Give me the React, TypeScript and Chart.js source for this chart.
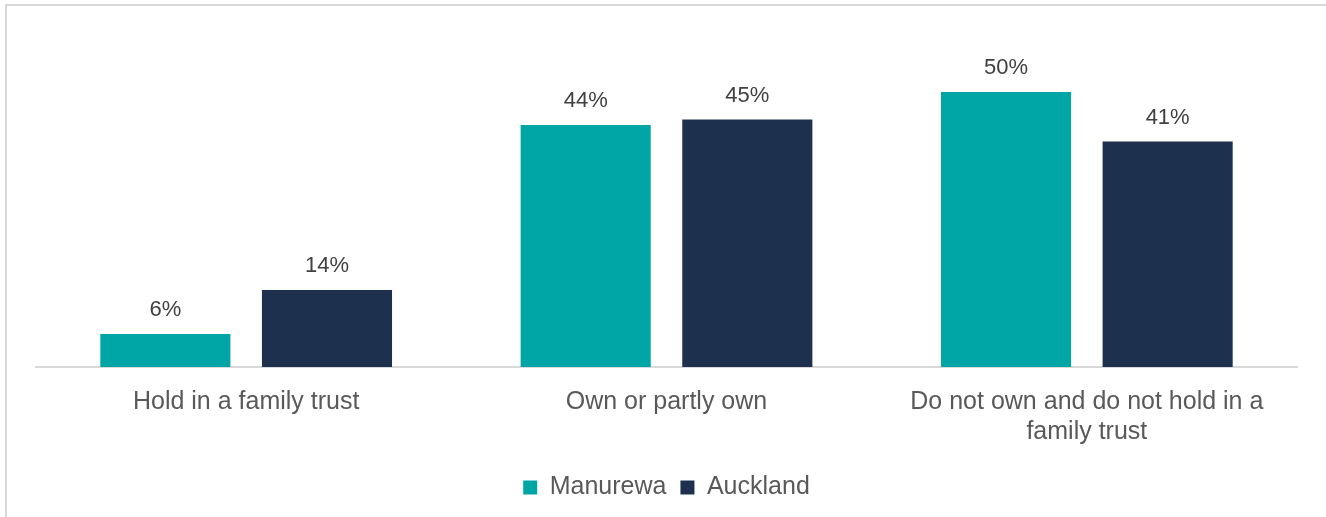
import React, { useEffect, useRef } from "react";
import { Chart, registerables } from "chart.js";

Chart.register(...registerables);

const categories: string[][] = [
  ["Hold in a family trust"],
  ["Own or partly own"],
  ["Do not own and do not hold in a", "family trust"],
];
const manurewa: number[] = [6, 44, 50];
const auckland: number[] = [14, 45, 41];
const seriesNames: string[] = ["Manurewa", "Auckland"];

const FONT = "'Liberation Sans', Arial, sans-serif";

const labelPlugin = {
  id: "barLabels",
  afterDatasetsDraw(chart: any) {
    const ctx = chart.ctx;
    ctx.save();
    ctx.font = `22px ${FONT}`;
    ctx.fillStyle = "#404040";
    ctx.textAlign = "center";
    ctx.textBaseline = "middle";
    chart.data.datasets.forEach((ds: any, i: number) => {
      const meta = chart.getDatasetMeta(i);
      meta.data.forEach((bar: any, j: number) => {
        ctx.fillText(`${ds.data[j]}%`, bar.x, bar.y - 24);
      });
    });
    ctx.restore();
  },
};

export default function App() {
  const ref = useRef<HTMLCanvasElement | null>(null);
  useEffect(() => {
    if (!ref.current) return;
    const chart = new Chart(ref.current, {
      type: "bar",
      data: {
        labels: categories,
        datasets: [
          { label: seriesNames[0], data: manurewa, backgroundColor: "#00A6A6" },
          { label: seriesNames[1], data: auckland, backgroundColor: "#1D314F" },
        ],
      },
      options: {
        animation: false,
        responsive: false,
        maintainAspectRatio: false,
        layout: { padding: { left: 36, right: 29, top: 37, bottom: 7 } },
        datasets: {
          bar: { categoryPercentage: 0.769, barPercentage: 0.805 },
        },
        scales: {
          x: {
            grid: { display: false, drawTicks: false },
            border: { display: true, color: "#D9D9D9", width: 2 },
            ticks: {
              color: "#595959",
              font: { family: FONT, size: 25, lineHeight: 1.2 },
              padding: 20,
              maxRotation: 0,
              autoSkip: false,
            },
            afterFit: (scale: any) => {
              scale.height -= 6;
            },
          },
          y: {
            display: false,
            min: 0,
            max: 60,
          },
        },
        plugins: {
          legend: {
            position: "bottom",
            labels: {
              color: "#595959",
              font: { family: FONT, size: 25 },
              boxWidth: 14,
              boxHeight: 14,
              padding: 14,
            },
          },
          tooltip: { enabled: false },
        },
      },
      plugins: [labelPlugin],
    });
    return () => chart.destroy();
  }, []);

  return (
    <div style={{ position: "fixed", left: 0, top: 0, width: 1326, height: 517, background: "#fff" }}>
      <div
        style={{
          position: "absolute",
          left: 5,
          top: 4,
          width: 1340,
          height: 540,
          borderTop: "2px solid #D9D9D9",
          borderLeft: "2px solid #D9D9D9",
        }}
      />
      <canvas ref={ref} width={1326} height={517} style={{ position: "absolute", left: 0, top: 0 }} />
    </div>
  );
}
